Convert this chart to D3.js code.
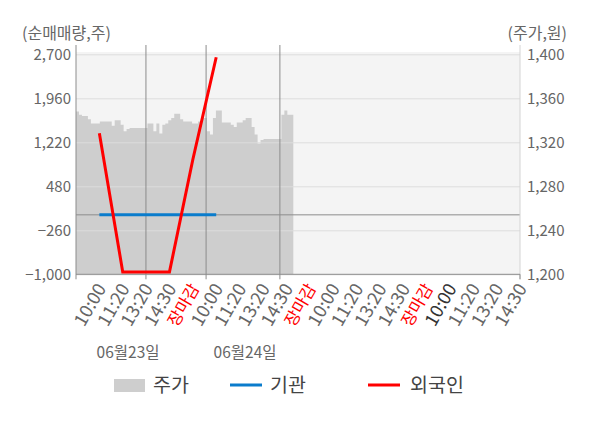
<!DOCTYPE html>
<html>
<head>
<meta charset="utf-8">
<script src="https://cdn.jsdelivr.net/npm/d3@7"></script>
<style>
  body { margin: 0; background: #fff; }
  text { font-family: "Noto Sans CJK KR", "Noto Sans", sans-serif; }
</style>
</head>
<body>
<svg width="600" height="428"></svg>
<script>
// x axis slots (time labels)
var slotLabels = ['10:00','11:20','13:20','14:30','장마감','10:00','11:20','13:20','14:30','장마감',
                  '10:00','11:20','13:20','14:30','장마감','10:00','11:20','13:20','14:30'];
var closeLabel = '장마감';
var darkSlot = 15;   // this one is drawn darker in the original

// net buying, shares (left axis), one value per slot
var foreignVals = [1371, -960, -960, -960, 930, 2650];
var instVals    = [0, 0, 0, 0, 0, 0];

// stock price samples (right axis)
var priceVals = [1348,1345,1344,1344,1341,1337,1337,1337,1339,1339,1339,1339,1335,1340,1340,1336,
                 1330,1332,1333,1333,1333,1333,1333,1333,1337,1337,1330,1337,1328,1336,1337,1340,
                 1342,1346,1346,1341,1339,1339,1339,1337,1337,1339,1342,1342,1330,1327,1342,1349,
                 1349,1338,1338,1338,1336,1334,1338,1338,1340,1342,1342,1334,1327,1319,1322,1323,
                 1323,1323,1323,1323,1323,1345,1349,1345,1345];
var dayBreaks = [23.5, 43.7, 68.5];   // in price sample units
var dates = [{label:'06월23일', at:17.5}, {label:'06월24일', at:56.8}];

var leftTicks  = [-1000, -260, 480, 1220, 1960, 2700];
var rightTicks = [1200, 1240, 1280, 1320, 1360, 1400];

var svg = d3.select('svg');
var plotLeft = 76, plotRight = 520, plotTop = 54.3, plotBottom = 274.3;

var scaleY  = d3.scaleLinear().domain([-1000, 2700]).range([plotBottom, plotTop]);
var scaleY2 = d3.scaleLinear().domain([1200, 1400]).range([plotBottom, plotTop]);
var scaleX  = d3.scaleLinear().domain([-1, slotLabels.length - 1]).range([plotLeft, plotRight]);
var priceX  = d3.scaleLinear().domain([0, priceVals.length]).range([plotLeft, 293.3]);

// plot background
svg.append('rect')
    .attr('x', plotLeft).attr('y', 52)
    .attr('width', plotRight - plotLeft).attr('height', plotBottom - 52)
    .attr('fill', '#f4f4f4');

// price area (step shaped)
var priceData = priceVals.concat([priceVals[priceVals.length - 1]]);
svg.append('path')
    .datum(priceData)
    .attr('fill', '#cecece')
    .attr('d', d3.area()
        .curve(d3.curveStepAfter)
        .x(function(d, i){ return priceX(i); })
        .y0(plotBottom)
        .y1(function(d){ return scaleY2(d); }));

// horizontal grid
svg.append('g')
    .attr('transform', 'translate(' + plotLeft + ',0)')
    .call(d3.axisLeft(scaleY).tickValues(leftTicks).tickSize(-(plotRight - plotLeft)).tickFormat(''))
    .call(function(g){
        g.select('.domain').remove();
        g.selectAll('line').attr('stroke', '#dddddd');
    });

// day break lines
svg.selectAll('.dayLine')
    .data(dayBreaks)
    .enter()
    .append('line')
    .attr('class', 'dayLine')
    .attr('x1', function(d){ return priceX(d); })
    .attr('x2', function(d){ return priceX(d); })
    .attr('y1', 45).attr('y2', plotBottom + 5)
    .attr('stroke', '#8c8c8c');

// zero line
svg.append('line')
    .attr('x1', plotLeft).attr('x2', plotRight)
    .attr('y1', scaleY(0)).attr('y2', scaleY(0))
    .attr('stroke', '#8c8c8c');

// left axis
svg.append('g')
    .attr('transform', 'translate(' + plotLeft + ',0)')
    .call(d3.axisLeft(scaleY).tickValues(leftTicks).tickSize(0).tickPadding(5).tickFormat(d3.format(',')))
    .call(function(g){
        g.select('.domain').remove();
        g.selectAll('text').attr('fill', '#666').style('font-size', '15px');
    });
svg.append('line')
    .attr('x1', plotLeft).attr('x2', plotLeft).attr('y1', 45).attr('y2', plotBottom + 5)
    .attr('stroke', '#8c8c8c');

// right axis
svg.append('g')
    .attr('transform', 'translate(' + plotRight + ',0)')
    .call(d3.axisRight(scaleY2).tickValues(rightTicks).tickSize(0).tickPadding(7).tickFormat(d3.format(',')))
    .call(function(g){
        g.select('.domain').remove();
        g.selectAll('text').attr('fill', '#666').style('font-size', '15px');
    });
svg.append('line')
    .attr('x1', plotRight).attr('x2', plotRight).attr('y1', 45).attr('y2', plotBottom + 5)
    .attr('stroke', '#d4d4d4');

// bottom axis line and ticks
svg.append('line')
    .attr('x1', plotLeft).attr('x2', plotRight).attr('y1', plotBottom).attr('y2', plotBottom)
    .attr('stroke', '#8c8c8c');
svg.append('line')
    .attr('x1', plotRight).attr('x2', plotRight).attr('y1', plotBottom).attr('y2', plotBottom + 5)
    .attr('stroke', '#8c8c8c');

// time labels
svg.selectAll('.slotLabel')
    .data(slotLabels)
    .enter()
    .append('text')
    .attr('class', 'slotLabel')
    .text(function(d){ return d; })
    .attr('transform', function(d, i){ return 'translate(' + (scaleX(i) + 2) + ',' + (plotBottom + 11) + ')rotate(-60)'; })
    .attr('dy', '0.35em')
    .style('text-anchor', 'end')
    .style('font-size', function(d){ return d == closeLabel ? '16.5px' : '18px'; })
    .attr('fill', function(d, i){
        if (d == closeLabel) return '#ff0000';
        if (i == darkSlot) return '#333';
        return '#666';
    });

// dates
svg.selectAll('.dateLabel')
    .data(dates)
    .enter()
    .append('text')
    .attr('class', 'dateLabel')
    .text(function(d){ return d.label; })
    .attr('x', function(d){ return priceX(d.at); })
    .attr('y', 358)
    .style('text-anchor', 'middle')
    .style('font-size', '15.5px')
    .attr('fill', '#666');

// axis titles
svg.append('text')
    .text('(순매매량,주)')
    .attr('x', 22).attr('y', 39)
    .style('font-size', '16px')
    .attr('fill', '#666');
svg.append('text')
    .text('(주가,원)')
    .attr('x', 567).attr('y', 39)
    .style('text-anchor', 'end')
    .style('font-size', '16px')
    .attr('fill', '#666');

// investor lines
var line = d3.line()
    .x(function(d, i){ return scaleX(i); })
    .y(function(d){ return scaleY(d); });

svg.append('path')
    .datum(instVals)
    .attr('fill', 'none')
    .attr('stroke', '#0a7ccc')
    .attr('stroke-width', 3)
    .attr('d', line);

svg.append('path')
    .datum(foreignVals)
    .attr('fill', 'none')
    .attr('stroke', '#ff0000')
    .attr('stroke-width', 3)
    .attr('d', line);

// legend
var legend = svg.append('g').attr('transform', 'translate(0,385)');
legend.append('rect')
    .attr('x', 114).attr('y', -6).attr('width', 31).attr('height', 13)
    .attr('fill', '#cecece');
legend.append('line')
    .attr('x1', 230).attr('x2', 262).attr('y1', 0).attr('y2', 0)
    .attr('stroke', '#0a7ccc').attr('stroke-width', 3);
legend.append('line')
    .attr('x1', 368).attr('x2', 400).attr('y1', 0).attr('y2', 0)
    .attr('stroke', '#ff0000').attr('stroke-width', 3);
var legendText = [['주가', 153], ['기관', 270], ['외국인', 410]];
legend.selectAll('.legText')
    .data(legendText)
    .enter()
    .append('text')
    .attr('class', 'legText')
    .text(function(d){ return d[0]; })
    .attr('x', function(d){ return d[1]; })
    .attr('dy', '0.35em')
    .style('font-size', '19.5px')
    .attr('fill', '#444');
</script>
</body>
</html>
